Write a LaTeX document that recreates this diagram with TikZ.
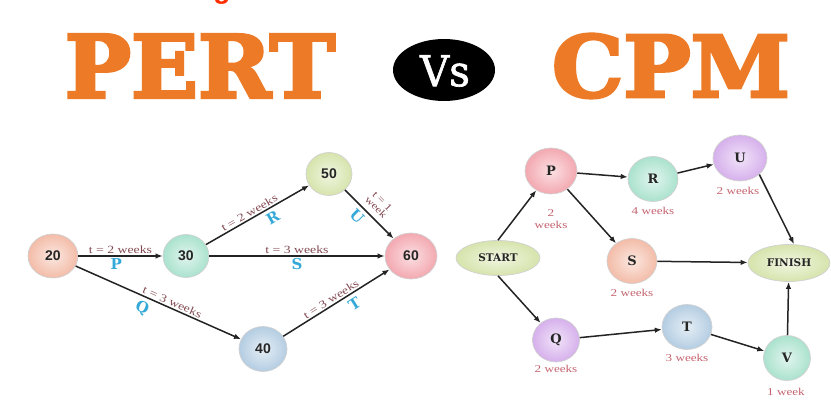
\documentclass[tikz,border=0pt]{standalone}
\usepackage{graphicx}
\usepackage{fontspec}
\setmainfont{Liberation Serif}
\newfontfamily\titlefont[FakeBold=3.5]{DejaVu Serif}
\newfontfamily\vsfont[FakeBold=1.5]{DejaVu Serif}
\newfontfamily\numfont{Liberation Sans}
\newfontfamily\durfont[FakeStretch=1.25]{Liberation Serif}
\newfontfamily\slabfont{DejaVu Serif}
\usetikzlibrary{arrows.meta,shapes.geometric}

\definecolor{titleorange}{RGB}{236,122,38}
\definecolor{headred}{RGB}{255,45,0}
\definecolor{edgeblack}{RGB}{35,35,35}
\definecolor{durbrown}{RGB}{130,72,80}
\definecolor{durpink}{RGB}{196,98,110}
\definecolor{actcyan}{RGB}{52,168,214}
\definecolor{salmonball}{RGB}{243,188,168}
\definecolor{mintball}{RGB}{170,226,206}
\definecolor{limeball}{RGB}{214,228,172}
\definecolor{pinkball}{RGB}{243,168,176}
\definecolor{blueball}{RGB}{180,205,226}
\definecolor{lilacball}{RGB}{214,176,236}

\begin{document}
\begin{tikzpicture}[x=1pt,y=-1pt,
  ball/.style={ellipse, inner sep=0pt, shading=radial,
    inner color=#1!35!white, outer color=#1, draw=black!18, line width=0.7pt},
  numtxt/.style={font=\numfont\bfseries\fontsize{14}{14}\selectfont, text=black!85},
  cpmtxt/.style={font=\slabfont\bfseries\fontsize{13}{13}\selectfont, text=black!85},
  endtxt/.style={font=\slabfont\bfseries\fontsize{10.5}{11}\selectfont, text=black!85},
  arc/.style={draw=edgeblack, line width=1.5pt, -{Latex[length=7pt,width=5.5pt]}},
  dur/.style={font=\durfont\fontsize{11}{11}\selectfont, text=durbrown, inner sep=1.5pt},
  act/.style={font=\slabfont\bfseries\fontsize{15}{15}\selectfont, text=actcyan, inner sep=2pt},
  wk/.style={font=\durfont\fontsize{10.5}{12}\selectfont, text=durpink, inner sep=0pt, align=center},
]
\useasboundingbox (0,0) rectangle (831,401);

% cut-off red heading above the title
\begin{scope}
  \clip (0,0) rectangle (831,6);
  \node[anchor=base, inner sep=0pt, text=headred,
        font=\numfont\bfseries\fontsize{28}{28}\selectfont] (head) at (222,-1) {g};
\end{scope}

% title
\node[inner sep=0pt, text=titleorange] (pert) at (200,66)
  {\resizebox{270pt}{63pt}{\titlefont\bfseries PERT}};
\node[ellipse, fill=black, minimum width=102, minimum height=62, inner sep=0pt] (vs) at (444,70) {};
\node[inner sep=0pt, text=white] (vstxt) at (445,71)
  {\resizebox{50pt}{31pt}{\vsfont Vs}};
\node[inner sep=0pt, text=titleorange] (cpm) at (671,66)
  {\resizebox{238pt}{63pt}{\titlefont\bfseries CPM}};

% PERT network
\node[ball=salmonball, minimum width=50, minimum height=44, numtxt] (n20) at (53,256) {20};
\node[ball=mintball,   minimum width=46, minimum height=43, numtxt] (n30) at (186,256) {30};
\node[ball=limeball,   minimum width=46, minimum height=43, numtxt] (n50) at (329,174) {50};
\node[ball=pinkball,   minimum width=52, minimum height=46, numtxt] (n60) at (411,256) {60};
\node[ball=blueball,   minimum width=48, minimum height=45, numtxt] (n40) at (263,349) {40};

\draw[arc] (n20) -- node[dur, above] {t = 2 weeks} node[act, below, pos=0.45] {P} (n30);
\draw[arc] (n30) -- node[dur, above] {t = 3 weeks} node[act, below] {S} (n60);
\draw[arc] (n30) -- node[dur, above, sloped, pos=0.45] {t = 2 weeks} node[act, below=2pt, sloped, pos=0.6] {R} (n50);
\draw[arc] (n50) -- node[dur, above=4pt, sloped, align=center, pos=0.5, font=\durfont\fontsize{10}{10}\selectfont] {t = 1\\[-1pt]week} node[act, below=2pt, sloped, pos=0.4] {U} (n60);
\draw[arc] (n20) -- node[dur, above, sloped, pos=0.57] {t = 3 weeks} node[act, below=2pt, sloped, pos=0.43] {Q} (n40);
\draw[arc] (n40) -- node[dur, above, sloped, pos=0.48] {t = 3 weeks} node[act, below=2pt, sloped, pos=0.62] {T} (n60);

% CPM network
\node[ball=limeball,  minimum width=84, minimum height=35, endtxt] (start)  at (498,258) {START};
\node[ball=limeball,  minimum width=82, minimum height=37, endtxt] (finish) at (789,263) {FINISH};
\node[ball=pinkball,  minimum width=52, minimum height=46, cpmtxt] (p) at (551,171) {P};
\node[ball=mintball,  minimum width=50, minimum height=45, cpmtxt] (r) at (653,179) {R};
\node[ball=lilacball, minimum width=54, minimum height=46, cpmtxt] (u) at (740,158) {U};
\node[ball=salmonball,minimum width=50, minimum height=45, cpmtxt] (s) at (632,261) {S};
\node[ball=lilacball, minimum width=47, minimum height=44, cpmtxt] (q) at (556,340) {Q};
\node[ball=blueball,  minimum width=50, minimum height=45, cpmtxt] (t) at (687,327) {T};
\node[ball=mintball,  minimum width=47, minimum height=45, cpmtxt] (v) at (787,358) {V};

\node[wk] (pw) at (551,219) {2\\weeks};
\node[wk] (rw) at (653,211) {4 weeks};
\node[wk] (uw) at (738,191) {2 weeks};
\node[wk] (sw) at (632,293) {2 weeks};
\node[wk] (qw) at (556,369) {2 weeks};
\node[wk] (tw) at (687,358) {3 weeks};
\node[wk] (vw) at (786,392) {1 week};

\draw[arc] (start.north) -- (p);
\draw[arc] (start.south) -- (q);
\draw[arc] (p) -- (r);
\draw[arc] (p) -- (s);
\draw[arc] (r) -- (u);
\draw[arc] (u.south east) -- ([xshift=5pt]finish.north);
\draw[arc] (s) -- (finish);
\draw[arc] (q) -- (t);
\draw[arc] (t) -- (v);
\draw[arc] (v) -- (finish);
\end{tikzpicture}
\end{document}
